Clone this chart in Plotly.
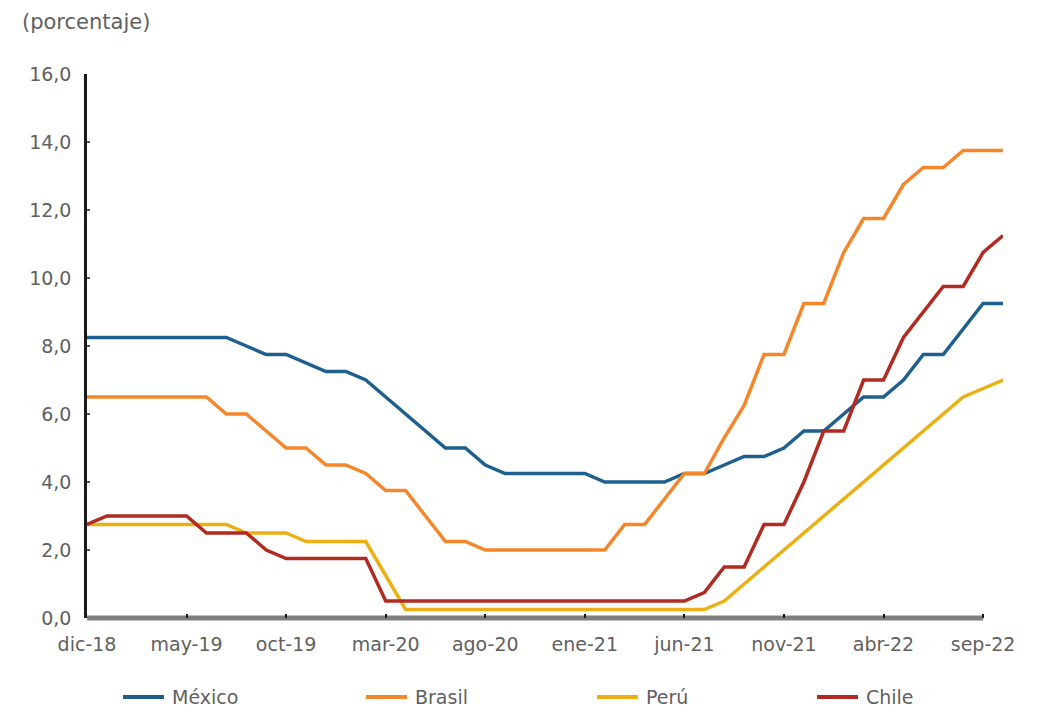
import plotly.graph_objects as go

months = ["dic-18",
          "ene-19", "feb-19", "mar-19", "abr-19", "may-19", "jun-19", "jul-19", "ago-19", "sep-19", "oct-19", "nov-19", "dic-19",
          "ene-20", "feb-20", "mar-20", "abr-20", "may-20", "jun-20", "jul-20", "ago-20", "sep-20", "oct-20", "nov-20", "dic-20",
          "ene-21", "feb-21", "mar-21", "abr-21", "may-21", "jun-21", "jul-21", "ago-21", "sep-21", "oct-21", "nov-21", "dic-21",
          "ene-22", "feb-22", "mar-22", "abr-22", "may-22", "jun-22", "jul-22", "ago-22", "sep-22", "oct-22"]

mexico = [8.25, 8.25, 8.25, 8.25, 8.25, 8.25, 8.25, 8.25, 8.0, 7.75, 7.75, 7.5, 7.25,
          7.25, 7.0, 6.5, 6.0, 5.5, 5.0, 5.0, 4.5, 4.25, 4.25, 4.25, 4.25,
          4.25, 4.0, 4.0, 4.0, 4.0, 4.25, 4.25, 4.5, 4.75, 4.75, 5.0, 5.5,
          5.5, 6.0, 6.5, 6.5, 7.0, 7.75, 7.75, 8.5, 9.25, 9.25]

brasil = [6.5, 6.5, 6.5, 6.5, 6.5, 6.5, 6.5, 6.0, 6.0, 5.5, 5.0, 5.0, 4.5,
          4.5, 4.25, 3.75, 3.75, 3.0, 2.25, 2.25, 2.0, 2.0, 2.0, 2.0, 2.0,
          2.0, 2.0, 2.75, 2.75, 3.5, 4.25, 4.25, 5.3, 6.25, 7.75, 7.75, 9.25,
          9.25, 10.75, 11.75, 11.75, 12.75, 13.25, 13.25, 13.75, 13.75, 13.75]

peru = [2.75, 2.75, 2.75, 2.75, 2.75, 2.75, 2.75, 2.75, 2.5, 2.5, 2.5, 2.25, 2.25,
        2.25, 2.25, 1.25, 0.25, 0.25, 0.25, 0.25, 0.25, 0.25, 0.25, 0.25, 0.25,
        0.25, 0.25, 0.25, 0.25, 0.25, 0.25, 0.25, 0.5, 1.0, 1.5, 2.0, 2.5,
        3.0, 3.5, 4.0, 4.5, 5.0, 5.5, 6.0, 6.5, 6.75, 7.0]

chile = [2.75, 3.0, 3.0, 3.0, 3.0, 3.0, 2.5, 2.5, 2.5, 2.0, 1.75, 1.75, 1.75,
         1.75, 1.75, 0.5, 0.5, 0.5, 0.5, 0.5, 0.5, 0.5, 0.5, 0.5, 0.5,
         0.5, 0.5, 0.5, 0.5, 0.5, 0.5, 0.75, 1.5, 1.5, 2.75, 2.75, 4.0,
         5.5, 5.5, 7.0, 7.0, 8.25, 9.0, 9.75, 9.75, 10.75, 11.25]

series_names = ["México", "Brasil", "Perú", "Chile"]
series_values = [mexico, brasil, peru, chile]
colors = ["#1d5f8f", "#f5862a", "#ecb012", "#b22a20"]

tick_labels = months[::5]

FONT = "DejaVu Sans, sans-serif"
GRAY = "#5f5f5f"

# the page body adds an 8px offset; work in figure pixels = screen pixels - 8
OFF = 8
FW, FH = 1038 - OFF, 707 - OFF
L, R, T, B = 87 - OFF, 1003 - OFF, 74 - OFF, 618 - OFF
W, H = R - L, B - T


def px(xs):
    return (xs - OFF - L) / W


def py(ys):
    return (B - (ys - OFF)) / H


fig = go.Figure()
for name, vals, col in zip(series_names, series_values, colors):
    fig.add_trace(go.Scatter(x=months, y=vals, name=name, mode="lines",
                             line=dict(color=col, width=3.5)))

# gray category-axis line, ending at the last labelled month (sep-22)
last_tick_frac = months.index(tick_labels[-1]) / (len(months) - 1)
shapes = [dict(type="line", xref="paper", yref="paper", x0=0, x1=last_tick_frac, y0=0, y1=0,
               line=dict(color="#7f7f7f", width=5), layer="below")]
annotations = [dict(text="(porcentaje)", xref="paper", yref="paper",
                    x=px(20), y=py(22), xanchor="left", yanchor="middle",
                    showarrow=False, font=dict(family=FONT, size=21, color=GRAY))]

# legend (drawn manually to match the reference spacing)
legend_x = [123, 366, 597, 817]
legend_y = 697
for name, col, lx in zip(series_names, colors, legend_x):
    shapes.append(dict(type="line", xref="paper", yref="paper",
                       x0=px(lx), x1=px(lx + 41), y0=py(legend_y), y1=py(legend_y),
                       line=dict(color=col, width=4)))
    annotations.append(dict(text=name, xref="paper", yref="paper",
                            x=px(lx + 47), y=py(legend_y), xanchor="left", yanchor="middle",
                            showarrow=False, font=dict(family=FONT, size=19, color=GRAY)))

fig.update_layout(
    width=FW, height=FH,
    margin=dict(l=L, r=FW - R, t=T, b=FH - B, autoexpand=False),
    plot_bgcolor="white", paper_bgcolor="white",
    separators=",.",
    font=dict(family=FONT, size=19, color=GRAY),
    showlegend=False,
    xaxis=dict(type="category", range=[0, 46], showgrid=False, zeroline=False,
               showline=False, tickmode="array", tickvals=tick_labels, ticktext=tick_labels,
               ticks="inside", ticklen=4, tickwidth=2, tickcolor="#1a1a1a",
               ticklabelstandoff=13, tickfont=dict(family=FONT, size=19, color=GRAY)),
    yaxis=dict(range=[0, 16], dtick=2, tickformat=".1f", showgrid=False, zeroline=False,
               showline=True, linecolor="#1a1a1a", linewidth=2.5,
               ticks="inside", ticklen=3, tickwidth=1.5, tickcolor="#555555",
               ticklabelstandoff=9, tickfont=dict(family=FONT, size=19, color=GRAY)),
    shapes=shapes,
    annotations=annotations,
)

fig.write_html("out.html")
